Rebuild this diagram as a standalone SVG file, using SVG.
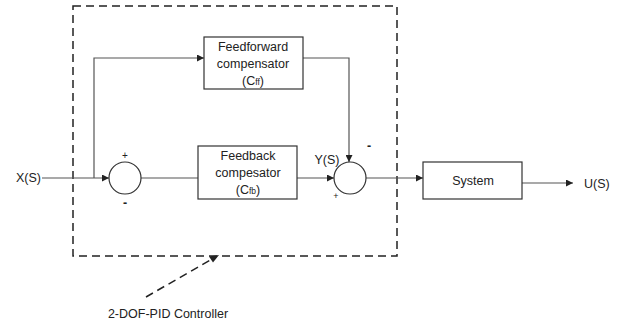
<svg xmlns="http://www.w3.org/2000/svg" width="620" height="329" viewBox="0 0 620 329">
<defs>
<style>
text{font-family:"Liberation Sans",Arial,sans-serif;font-size:12.5px;fill:#222}
.c{text-anchor:middle}
.box{fill:#fff;stroke:#333;stroke-width:1.2}
.ln{fill:none;stroke:#555;stroke-width:1.2}
.dash{fill:none;stroke:#222;stroke-width:1.5;stroke-dasharray:8,5}
.sub{font-size:8.5px}
</style>
<marker id="ah" viewBox="0 0 10 10" refX="10" refY="5" markerWidth="7" markerHeight="7" orient="auto" markerUnits="userSpaceOnUse"><path d="M0,0L10,5L0,10z" fill="#222"/></marker>
</defs>
<rect id="controller" class="dash" x="73" y="6" width="324" height="250"/>
<g id="connectors">
<path class="ln" d="M42,178H109" marker-end="url(#ah)"/>
<path class="ln" d="M94,178V58H204" marker-end="url(#ah)"/>
<path class="ln" d="M303,58H349V162" marker-end="url(#ah)"/>
<path class="ln" d="M141,178H198"/>
<path class="ln" d="M297,178H334" marker-end="url(#ah)"/>
<path class="ln" d="M366,178H423" marker-end="url(#ah)"/>
<path class="ln" d="M522,183H573" marker-end="url(#ah)"/>
<path class="dash" d="M146,297L212,259" stroke-width="1.2" stroke-dasharray="8,5"/>
<path d="M219,255L209,256.5L213,262.5z" fill="#222"/>
</g>
<g id="ff"><rect class="box" x="204" y="37" width="99" height="52"/>
<text class="c" x="253" y="51">Feedforward</text>
<text class="c" x="253" y="68">compensator</text>
<text class="c" x="253" y="85">(C<tspan class="sub">ff</tspan>)</text></g>
<g id="fb"><rect class="box" x="198" y="146" width="99" height="53"/>
<text class="c" x="248" y="160">Feedback</text>
<text class="c" x="248" y="177">compesator</text>
<text class="c" x="248" y="194">(C<tspan class="sub">fb</tspan>)</text></g>
<g id="sum1"><circle class="box" cx="125" cy="178" r="16"/>
<text class="c" x="125" y="159" style="font-size:10px">+</text>
<text class="c" x="125" y="207" style="font-weight:bold">-</text></g>
<g id="sum2"><circle class="box" cx="350" cy="178" r="16"/>
<text class="c" x="327" y="164">Y(S)</text>
<text class="c" x="369" y="150" style="font-weight:bold">-</text>
<text class="c" x="336" y="199" style="font-size:9px">+</text></g>
<g id="system"><rect class="box" x="423" y="162" width="99" height="37"/>
<text class="c" x="473" y="185">System</text></g>
<g id="labels">
<text x="16" y="182">X(S)</text>
<text x="584" y="188">U(S)</text>
<text class="c" x="168" y="318">2-DOF-PID Controller</text>
</g>
</svg>
